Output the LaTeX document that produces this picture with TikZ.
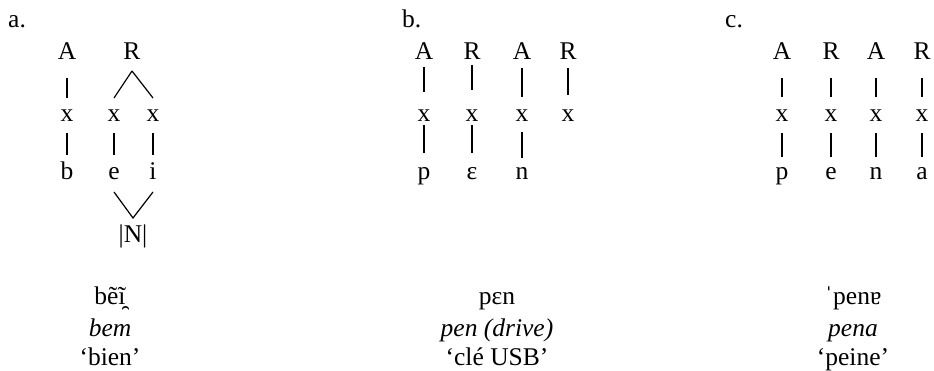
\documentclass[tikz,border=0pt]{standalone}
\usepackage{fontspec}
\setmainfont{Liberation Serif}
\begin{document}
\begin{tikzpicture}[x=1pt,y=-1pt,
  lt/.style={inner sep=0pt, anchor=base, font=\fontsize{25.5}{30}\selectfont},
  lab/.style={inner sep=0pt, anchor=base west, font=\fontsize{25.5}{30}\selectfont},
  tie/.style={line width=1.2pt}]
\useasboundingbox (0,0) rectangle (934,371);
% ---------- a ----------
\node[lab] (la) at (8,28) {a.};
\node[lt] (aA) at (67,60) {A};
\node[lt] (aR) at (132,60) {R};
\node[lt] (ax1) at (67,122) {x};
\node[lt] (ax2) at (114,122) {x};
\node[lt] (ax3) at (153,122) {x};
\node[lt] (ab) at (67,180) {b};
\node[lt] (ae) at (114,180) {e};
\node[lt] (ai) at (153,180) {i};
\node[lt] (aN) at (133,243) {|N|};
\draw[tie] ([yshift=-18pt]aA.base) -- ([yshift=24pt]ax1.base);
\draw[tie] ([yshift=-11pt]aR.base) -- ([yshift=24pt]ax2.base);
\draw[tie] ([yshift=-11pt]aR.base) -- ([yshift=24pt]ax3.base);
\draw[tie] ([yshift=-11pt]ax1.base) -- ([yshift=25pt]ab.base);
\draw[tie] ([yshift=-11pt]ax2.base) -- ([yshift=25pt]ae.base);
\draw[tie] ([yshift=-11pt]ax3.base) -- ([yshift=25pt]ai.base);
\draw[tie] ([yshift=-12pt]ae.base) -- ([yshift=25pt]aN.base) -- ([yshift=-12pt]ai.base);
\node[lt] (at1) at (110,305) {bẽĩ̯};
\node[lt] (at2) at (110,336) {\itshape bem};
\node[lt] (at3) at (110,365) {‘bien’};
% ---------- b ----------
\node[lab] (lb) at (402,28) {b.};
\node[lt] (bA1) at (424,60) {A};
\node[lt] (bR1) at (472,60) {R};
\node[lt] (bA2) at (522,60) {A};
\node[lt] (bR2) at (568,60) {R};
\node[lt] (bx1) at (424,122) {x};
\node[lt] (bx2) at (472,122) {x};
\node[lt] (bx3) at (522,122) {x};
\node[lt] (bx4) at (568,122) {x};
\node[lt] (bp) at (424,180) {p};
\node[lt] (be) at (472,180) {ɛ};
\node[lt] (bn) at (522,180) {n};
\draw[tie] ([yshift=-7pt]bA1.base) -- ([yshift=30pt]bx1.base);
\draw[tie] ([yshift=-5pt]bR1.base) -- ([yshift=32pt]bx2.base);
\draw[tie] ([yshift=-8pt]bA2.base) -- ([yshift=25pt]bx3.base);
\draw[tie] ([yshift=-8pt]bR2.base) -- ([yshift=27pt]bx4.base);
\draw[tie] ([yshift=-3pt]bx1.base) -- ([yshift=27pt]bp.base);
\draw[tie] ([yshift=-3pt]bx2.base) -- ([yshift=27pt]be.base);
\draw[tie] ([yshift=-10pt]bx3.base) -- ([yshift=22pt]bn.base);
\node[lt] (bt1) at (497,305) {pɛn};
\node[lt] (bt2) at (497,336) {\itshape pen (drive)};
\node[lt] (bt3) at (497,365) {‘clé USB’};
% ---------- c ----------
\node[lab] (lc) at (725,28) {c.};
\node[lt] (cA1) at (782,60) {A};
\node[lt] (cR1) at (831,60) {R};
\node[lt] (cA2) at (876,60) {A};
\node[lt] (cR2) at (922,60) {R};
\node[lt] (cx1) at (782,122) {x};
\node[lt] (cx2) at (831,122) {x};
\node[lt] (cx3) at (876,122) {x};
\node[lt] (cx4) at (922,122) {x};
\node[lt] (cp) at (782,180) {p};
\node[lt] (ce) at (831,180) {e};
\node[lt] (cn) at (876,180) {n};
\node[lt] (ca) at (922,180) {a};
\foreach \u/\v in {cA1/cx1,cR1/cx2,cA2/cx3,cR2/cx4}
  \draw[tie] ([yshift=-18pt]\u.base) -- ([yshift=25pt]\v.base);
\foreach \u/\v in {cx1/cp,cx2/ce,cx3/cn,cx4/ca}
  \draw[tie] ([yshift=-11pt]\u.base) -- ([yshift=23pt]\v.base);
\node[lt] (ct1) at (853,305) {ˈpenɐ};
\node[lt] (ct2) at (853,336) {\itshape pena};
\node[lt] (ct3) at (853,365) {‘peine’};
\end{tikzpicture}
\end{document}
